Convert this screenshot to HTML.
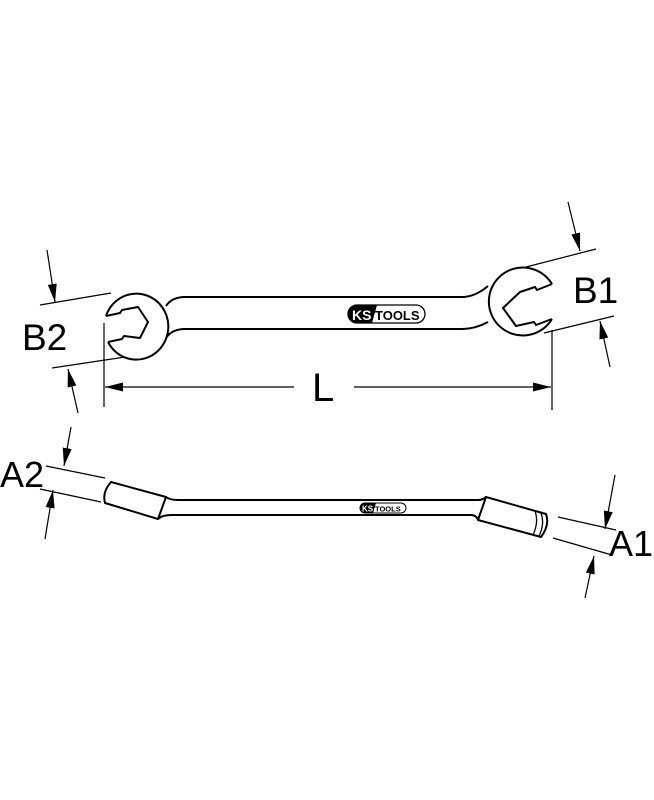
<!DOCTYPE html>
<html><head><meta charset="utf-8"><style>
html,body{margin:0;padding:0;background:#fff;}
svg{display:block;}
text{font-family:"Liberation Sans",sans-serif;fill:#000;}
</style></head><body>
<svg width="654" height="800" viewBox="0 0 654 800" xmlns="http://www.w3.org/2000/svg">
<defs>
<marker id="ar" viewBox="0 0 18 9" refX="18" refY="4.5" markerWidth="18" markerHeight="9" markerUnits="userSpaceOnUse" orient="auto">
<path d="M0,0 L18,4.5 L0,9 z" fill="#000"/></marker>
</defs>
<g fill="none" stroke="#000" stroke-width="2" stroke-linejoin="round">
<path d="M166,306 Q172,297 185,297 L462,297 Q475,297 488,286"/>
<path d="M166,338 Q172,329 185,329 L462,329 Q475,329 488,322"/>
<path d="M106,316 A32,33 0 1 1 108,342"/>
<path d="M106,316 L120,313 L122,310 L138,307 L148,322 L140,338 L124,336 L122,339 L108,342"/>
<path d="M552,284 A34,34 0 1 0 552,319"/>
<path d="M552,284 L537,290 L535,287 L520,292 L503,308 L516,326 L534,322 L536,325 L552,319"/>
<path d="M111,482 L166,497 L158,519 L105,503 Q102,492 111,482 Z"/>
<path d="M166,497 Q170,500 178,500 L478,500 Q483,500 486,497"/>
<path d="M158,519 Q162,515 172,515 L472,515 Q477,516 478,520"/>
<path d="M486,497 L546,514 Q550,525 541,537 L478,520 Z"/>
<path d="M535,511 Q539,522 533,535" stroke-width="1.3"/>
<path d="M541,513 Q545,524 539,536" stroke-width="1.3"/>
</g>
<g>
<rect x="348" y="305" width="77" height="18" rx="9" fill="#fff" stroke="#000" stroke-width="1.3"/>
<path d="M357,305 L377,305 L372,323 L357,323 A9,9 0 0 1 357,305 Z" fill="#000"/>
<text x="352" y="320" font-size="14" font-weight="bold" style="fill:#fff">KS</text>
<text x="375" y="320" font-size="13" font-weight="bold">TOOLS</text>
<rect x="360" y="503" width="46" height="10" rx="5" fill="#fff" stroke="#000" stroke-width="1"/>
<path d="M365,503 L376,503 L373,513 L365,513 A5,5 0 0 1 365,503 Z" fill="#000"/>
<text x="362" y="511.5" font-size="8" font-weight="bold" style="fill:#fff">KS</text>
<text x="375" y="511.5" font-size="7.5" font-weight="bold">TOOLS</text>
</g>
<g stroke="#000" stroke-width="1.2" fill="none">
<line x1="40" y1="305" x2="111" y2="293"/>
<line x1="52" y1="368" x2="125" y2="357"/>
<line x1="47" y1="250" x2="55" y2="302" marker-end="url(#ar)"/>
<line x1="78" y1="413" x2="68" y2="369" marker-end="url(#ar)"/>
<line x1="104" y1="323" x2="104" y2="407"/>
<line x1="552" y1="330" x2="552" y2="410"/>
<line x1="294" y1="387" x2="105" y2="387" marker-end="url(#ar)"/>
<line x1="354" y1="387" x2="551" y2="387" marker-end="url(#ar)"/>
<line x1="526" y1="267" x2="596" y2="249"/>
<line x1="544" y1="333" x2="614" y2="316"/>
<line x1="568" y1="202" x2="580" y2="251" marker-end="url(#ar)"/>
<line x1="610" y1="367" x2="600" y2="321" marker-end="url(#ar)"/>
<line x1="46" y1="466" x2="105" y2="478"/>
<line x1="40" y1="489" x2="101" y2="502"/>
<line x1="71" y1="427" x2="64" y2="466" marker-end="url(#ar)"/>
<line x1="45" y1="539" x2="53" y2="490" marker-end="url(#ar)"/>
<line x1="558" y1="517" x2="616" y2="530"/>
<line x1="553" y1="538" x2="612" y2="555"/>
<line x1="615" y1="475" x2="605" y2="529" marker-end="url(#ar)"/>
<line x1="585" y1="598" x2="594" y2="556" marker-end="url(#ar)"/>
</g>
<text x="22" y="350" font-size="37">B2</text>
<text x="312" y="401" font-size="40">L</text>
<text x="573" y="303" font-size="37">B1</text>
<text x="0" y="487" font-size="36">A2</text>
<text x="609" y="556" font-size="36">A1</text>
</svg>
</body></html>
